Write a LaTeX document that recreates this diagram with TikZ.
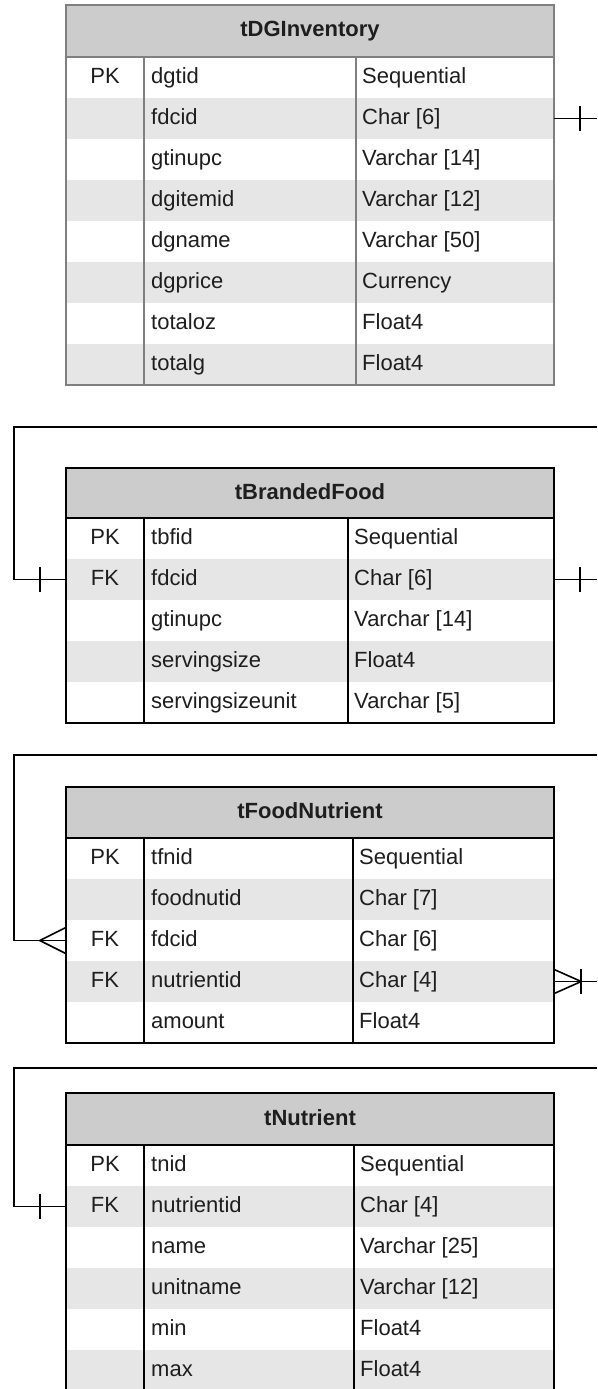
\documentclass[tikz,border=0pt]{standalone}
\usepackage{fontspec}
\setmainfont{Liberation Sans}
\usepackage{tikz}
\usetikzlibrary{positioning}
\usepackage{xcolor}

\definecolor{hdrgray}{HTML}{CCCCCC}
\definecolor{rowgray}{HTML}{E6E6E6}
\definecolor{edgegray}{HTML}{7F7F7F}
\definecolor{inkgray}{HTML}{1E1E1E}

\tikzset{
  hdrbox/.style={fill=hdrgray,minimum width=488pt,inner sep=0pt,text=inkgray,font=\bfseries\fontsize{22}{26}\selectfont},
  rowbox/.style={minimum width=488pt,minimum height=41pt,inner sep=0pt},
  keytxt/.style={inner sep=0pt,text height=16pt,text depth=4pt,text=inkgray,font=\fontsize{22}{26}\selectfont},
  fieldtxt/.style={keytxt,anchor=west},
  rel/.style={line width=1.6pt,black},
}

\begin{document}
\begin{tikzpicture}[x=1pt,y=-1pt]
\path[use as bounding box,fill=white] (0,0) rectangle (597,1389);

% tDGInventory
\node[hdrbox,minimum height=52pt,text height=16pt,text depth=4pt] (inv) at (310,31) {tDGInventory};
\foreach \k/\f/\t [count=\i] in {PK/dgtid/Sequential, /fdcid/Char [6], /gtinupc/Varchar [14], /dgitemid/Varchar [12], /dgname/Varchar [50], /dgprice/Currency, /totaloz/Float4, /totalg/Float4}{
  \pgfmathsetmacro\yy{57+41*\i-20.5}
  \ifodd\i\def\rowfill{white}\else\def\rowfill{rowgray}\fi
  \node[rowbox,fill=\rowfill] (inv-r\i) at (310,\yy) {};
  \node[keytxt] (inv-k\i) at (105,\yy) {\k};
  \node[fieldtxt] (inv-f\i) at (151,\yy) {\f};
  \node[fieldtxt] (inv-t\i) at (362,\yy) {\t};
}
\draw[edgegray,line width=1.3pt] (144,57) -- (144,385) (356,57) -- (356,385);
\draw[edgegray,line width=2.4pt] (66,57) -- (554,57) (66,5) rectangle (554,385);

% tBrandedFood
\node[hdrbox,minimum height=50pt,text height=16pt,text depth=4pt] (bf) at (310,493) {tBrandedFood};
\foreach \k/\f/\t [count=\i] in {PK/tbfid/Sequential, FK/fdcid/Char [6], /gtinupc/Varchar [14], /servingsize/Float4, /servingsizeunit/Varchar [5]}{
  \pgfmathsetmacro\yy{518+41*\i-20.5}
  \ifodd\i\def\rowfill{white}\else\def\rowfill{rowgray}\fi
  \node[rowbox,fill=\rowfill] (bf-r\i) at (310,\yy) {};
  \node[keytxt] (bf-k\i) at (105,\yy) {\k};
  \node[fieldtxt] (bf-f\i) at (151,\yy) {\f};
  \node[fieldtxt] (bf-t\i) at (354,\yy) {\t};
}
\draw[line width=1.3pt] (144,518) -- (144,723) (348,518) -- (348,723);
\draw[line width=2.6pt] (66,518) -- (554,518) (66,468) rectangle (554,723);

% tFoodNutrient
\node[hdrbox,minimum height=51pt,text height=16pt,text depth=4pt] (fn) at (310,812.5) {tFoodNutrient};
\foreach \k/\f/\t [count=\i] in {PK/tfnid/Sequential, /foodnutid/Char [7], FK/fdcid/Char [6], FK/nutrientid/Char [4], /amount/Float4}{
  \pgfmathsetmacro\yy{838+41*\i-20.5}
  \ifodd\i\def\rowfill{white}\else\def\rowfill{rowgray}\fi
  \node[rowbox,fill=\rowfill] (fn-r\i) at (310,\yy) {};
  \node[keytxt] (fn-k\i) at (105,\yy) {\k};
  \node[fieldtxt] (fn-f\i) at (151,\yy) {\f};
  \node[fieldtxt] (fn-t\i) at (359,\yy) {\t};
}
\draw[line width=1.3pt] (144,838) -- (144,1043) (353,838) -- (353,1043);
\draw[line width=2.6pt] (66,838) -- (554,838) (66,787) rectangle (554,1043);

% tNutrient
\node[hdrbox,minimum height=52pt,text height=16pt,text depth=4pt] (nu) at (310,1119) {tNutrient};
\foreach \k/\f/\t [count=\i] in {PK/tnid/Sequential, FK/nutrientid/Char [4], /name/Varchar [25], /unitname/Varchar [12], /min/Float4, /max/Float4}{
  \pgfmathsetmacro\yy{1145+41*\i-20.5}
  \ifodd\i\def\rowfill{white}\else\def\rowfill{rowgray}\fi
  \node[rowbox,fill=\rowfill] (nu-r\i) at (310,\yy) {};
  \node[keytxt] (nu-k\i) at (105,\yy) {\k};
  \node[fieldtxt] (nu-f\i) at (151,\yy) {\f};
  \node[fieldtxt] (nu-t\i) at (360,\yy) {\t};
}
\draw[line width=1.3pt] (144,1145) -- (144,1395) (354,1145) -- (354,1395);
\draw[line width=2.6pt] (66,1145) -- (554,1145) (66,1093) rectangle (554,1395);

% relationships
\coordinate (out1) at (597,118.5);
\coordinate (out2) at (597,579.5);
\coordinate (out3) at (597,981.5);
\coordinate (in1) at (597,427);
\coordinate (in2) at (597,755);
\coordinate (in3) at (597,1068);
\coordinate (bend1) at (14,427);
\coordinate (bend2) at (14,755);
\coordinate (bend3) at (14,1068);

\draw[rel] (inv-r2.east) -- (out1);
\draw[rel] ([xshift=26pt,yshift=12.5pt]inv-r2.east) -- ([xshift=26pt,yshift=-12.5pt]inv-r2.east);
\draw[rel] (in1) -- (bend1) |- (bf-r2.west);
\draw[rel] ([xshift=-26pt,yshift=12.5pt]bf-r2.west) -- ([xshift=-26pt,yshift=-12.5pt]bf-r2.west);

\draw[rel] (bf-r2.east) -- (out2);
\draw[rel] ([xshift=26pt,yshift=12.5pt]bf-r2.east) -- ([xshift=26pt,yshift=-12.5pt]bf-r2.east);
\draw[rel] (in2) -- (bend2) |- (fn-r3.west);
\draw[rel] ([yshift=13pt]fn-r3.west) -- ([xshift=-26pt]fn-r3.west) -- ([yshift=-13pt]fn-r3.west);

\draw[rel] (fn-r4.east) -- (out3);
\draw[rel] ([yshift=12pt]fn-r4.east) -- ([xshift=27pt]fn-r4.east) -- ([yshift=-12pt]fn-r4.east);
\draw[rel] ([xshift=27pt,yshift=12.5pt]fn-r4.east) -- ([xshift=27pt,yshift=-12.5pt]fn-r4.east);
\draw[rel] (in3) -- (bend3) |- (nu-r2.west);
\draw[rel] ([xshift=-26pt,yshift=12.5pt]nu-r2.west) -- ([xshift=-26pt,yshift=-12.5pt]nu-r2.west);
\end{tikzpicture}
\end{document}
